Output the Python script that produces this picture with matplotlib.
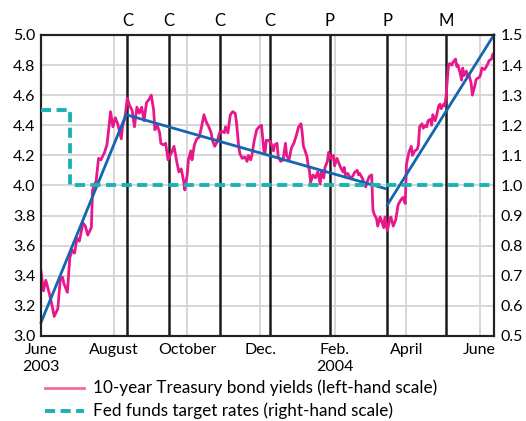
import matplotlib
matplotlib.use("Agg")
import matplotlib.pyplot as plt
import matplotlib.dates as mdates
from matplotlib.lines import Line2D
from datetime import datetime, timedelta

plt.rcParams['font.family'] = ['Lato', 'DejaVu Sans']

START = datetime(2003, 6, 1)

# 10-year Treasury yields: (days since 2003-06-01, percent)
yield_days = [0, 2, 4, 7, 9, 11, 14, 16, 18, 19, 22, 24, 26, 28, 30, 32, 35, 37, 39, 42,
              43, 46, 48, 50, 53, 55, 57, 58, 60, 62, 64, 67, 68, 70, 72, 74, 76, 78, 80, 82,
              84, 86, 88, 90, 92, 94, 95, 97, 99, 100, 102, 104, 106, 109, 111, 113, 115, 117, 119, 120,
              122, 123, 125, 126, 128, 130, 132, 134, 136, 138, 140, 142, 143, 145, 147, 149, 151, 153, 154, 156,
              158, 160, 162, 163, 165, 166, 168, 170, 172, 173, 175, 176, 178, 180, 182, 184, 186, 187, 188, 190,
              192, 194, 195, 197, 198, 200, 202, 204, 205, 207, 209, 211, 213, 215, 217, 218, 219, 220, 222, 223,
              224, 225, 227, 229, 231, 233, 234, 236, 237, 239, 240, 242, 244, 245, 247, 248, 250, 252, 253, 254,
              256, 258, 260, 262, 264, 265, 266, 268, 271, 272, 274, 276, 277, 278, 280, 281, 283, 284, 286, 287,
              289, 291, 292, 294, 296, 298, 300, 302, 304, 305, 307, 309, 310, 312, 314, 315, 316, 318, 319, 321,
              322, 323, 325, 326, 327, 329, 330, 332, 333, 334, 336, 337, 338, 340, 341, 343, 344, 346, 347, 348,
              350, 351, 352, 353, 355, 356, 357, 359, 360, 362, 363, 364, 366, 367, 368, 370, 371, 373, 374, 376,
              377, 378]
yield_vals = [3.43, 3.30, 3.37, 3.28, 3.21, 3.13, 3.18, 3.37, 3.39, 3.35, 3.29, 3.52, 3.57, 3.55, 3.65, 3.63, 3.75, 3.73, 3.67, 3.72,
              3.97, 4.03, 4.18, 4.17, 4.22, 4.27, 4.41, 4.49, 4.39, 4.45, 4.41, 4.31, 4.39, 4.45, 4.58, 4.53, 4.50, 4.39, 4.52, 4.48,
              4.52, 4.43, 4.55, 4.57, 4.60, 4.50, 4.37, 4.40, 4.35, 4.28, 4.27, 4.28, 4.17, 4.22, 4.26, 4.17, 4.09, 4.11, 4.03, 3.97,
              4.07, 4.17, 4.23, 4.17, 4.27, 4.31, 4.32, 4.39, 4.47, 4.42, 4.39, 4.35, 4.30, 4.26, 4.29, 4.35, 4.36, 4.35, 4.39, 4.35,
              4.47, 4.49, 4.48, 4.43, 4.26, 4.21, 4.18, 4.19, 4.16, 4.20, 4.17, 4.20, 4.30, 4.37, 4.39, 4.40, 4.23, 4.22, 4.30, 4.30,
              4.28, 4.23, 4.27, 4.28, 4.19, 4.16, 4.17, 4.28, 4.20, 4.17, 4.25, 4.28, 4.33, 4.39, 4.41, 4.35, 4.26, 4.24, 4.19, 4.13,
              4.10, 4.02, 4.07, 4.05, 4.09, 4.01, 4.10, 4.05, 4.12, 4.16, 4.22, 4.18, 4.20, 4.13, 4.18, 4.16, 4.12, 4.09, 4.12, 4.07,
              4.08, 4.05, 4.06, 4.09, 4.10, 4.07, 4.08, 4.05, 3.99, 4.02, 4.06, 4.07, 3.84, 3.81, 3.78, 3.73, 3.79, 3.77, 3.72, 3.79,
              3.70, 3.77, 3.79, 3.73, 3.77, 3.87, 3.90, 3.92, 3.88, 4.14, 4.22, 4.26, 4.20, 4.23, 4.24, 4.27, 4.39, 4.41, 4.38, 4.40,
              4.39, 4.43, 4.44, 4.40, 4.47, 4.43, 4.46, 4.53, 4.54, 4.51, 4.54, 4.53, 4.59, 4.79, 4.81, 4.80, 4.82, 4.84, 4.79, 4.80,
              4.74, 4.70, 4.78, 4.73, 4.76, 4.72, 4.74, 4.68, 4.60, 4.66, 4.70, 4.71, 4.72, 4.74, 4.78, 4.77, 4.78, 4.81, 4.83, 4.84,
              4.87, 4.88]

# Trend lines (left-hand scale), segments
trend1_days = [0, 71]
trend1_vals = [3.09, 4.47]
trend2_days = [71, 287]
trend2_vals = [4.47, 3.98]
trend3_days = [289, 378]
trend3_vals = [3.87, 5.00]

# Fed funds target (right-hand scale)
fed_days = [0, 24, 24, 378]
fed_vals = [1.25, 1.25, 1.00, 1.00]

# FOMC meetings and markers
fomc_dates = ["2003-08-12", "2003-09-16", "2003-10-28", "2003-12-09",
              "2004-01-28", "2004-03-16", "2004-05-04"]
fomc_labels = ["C", "C", "C", "C", "P", "P", "M"]

month_ticks = ["2003-06-01", "2003-08-01", "2003-10-01", "2003-12-01",
               "2004-02-01", "2004-04-01", "2004-06-01"]
month_labels = ["June\n2003", "August", "October", "Dec.", "Feb.\n2004", "April", "June"]

left_ticks = [3.0, 3.2, 3.4, 3.6, 3.8, 4.0, 4.2, 4.4, 4.6, 4.8, 5.0]
right_ticks = [0.5, 0.6, 0.7, 0.8, 0.9, 1.0, 1.1, 1.2, 1.3, 1.4, 1.5]

PINK = "#e8178a"
BLUE = "#1565b0"
TEAL = "#19b3b3"
GRID = "#d4d4d4"
FS = 11.5
LFS = 12.3


def d(days):
    return [mdates.date2num(START + timedelta(days=x)) for x in days]


fig = plt.figure(figsize=(5.26, 4.21), dpi=100)
ax = fig.add_axes([0.078, 0.202, 0.861, 0.715])
ax2 = ax.twinx()

xmin = mdates.date2num(START)
xmax = mdates.date2num(START + timedelta(days=378))
ax.set_xlim(xmin, xmax)
ax.set_ylim(3.0, 5.0)
ax2.set_ylim(0.5, 1.5)

ax.set_xticks([mdates.date2num(datetime.strptime(s, "%Y-%m-%d")) for s in month_ticks])
ax.set_xticklabels(month_labels, fontsize=FS, linespacing=1.25)
ax.set_yticks(left_ticks)
ax.set_yticklabels([f"{v:.1f}" for v in left_ticks], fontsize=FS)
ax2.set_yticks(right_ticks)
ax2.set_yticklabels([f"{v:.1f}" for v in right_ticks], fontsize=FS)
ax.tick_params(axis="y", length=0, pad=4)
ax.tick_params(axis="x", length=0, pad=5)
ax2.tick_params(axis="both", length=0, pad=5)
ax.grid(True, color=GRID, linewidth=1.3)
ax.set_axisbelow(True)
for sp in list(ax.spines.values()) + list(ax2.spines.values()):
    sp.set_color("#222222")
    sp.set_linewidth(1.5)

for ds, lab in zip(fomc_dates, fomc_labels):
    xv = mdates.date2num(datetime.strptime(ds, "%Y-%m-%d"))
    ax.axvline(xv, color="#1a1a1a", linewidth=1.8, zorder=2)
    ax.text(xv, 5.04, lab, ha="center", va="bottom", fontsize=FS + 0.5, clip_on=False)

ax.plot(d(yield_days), yield_vals, color=PINK, linewidth=2.0, zorder=3)
ax2.plot(d(fed_days), fed_vals, color=TEAL, linewidth=2.8, dashes=(2.6, 1.4), zorder=3)
for td, tv in [(trend1_days, trend1_vals), (trend2_days, trend2_vals), (trend3_days, trend3_vals)]:
    ax.plot(d(td), tv, color=BLUE, linewidth=2.0, zorder=4, clip_on=False)
ax2.set_zorder(ax.get_zorder() + 1)
ax2.patch.set_visible(False)

# Legend
fig.add_artist(Line2D([0.085, 0.160], [0.079, 0.079], color="#ee6b9f", linewidth=2.0))
fig.text(0.177, 0.079, "10-year Treasury bond yields (left-hand scale)", fontsize=LFS,
         va="center", ha="left")
fig.add_artist(Line2D([0.085, 0.160], [0.024, 0.024], color=TEAL, linewidth=2.8,
                      dashes=(2.6, 1.4)))
fig.text(0.177, 0.024, "Fed funds target rates (right-hand scale)", fontsize=LFS,
         va="center", ha="left")

fig.savefig("out.png", dpi=100)
